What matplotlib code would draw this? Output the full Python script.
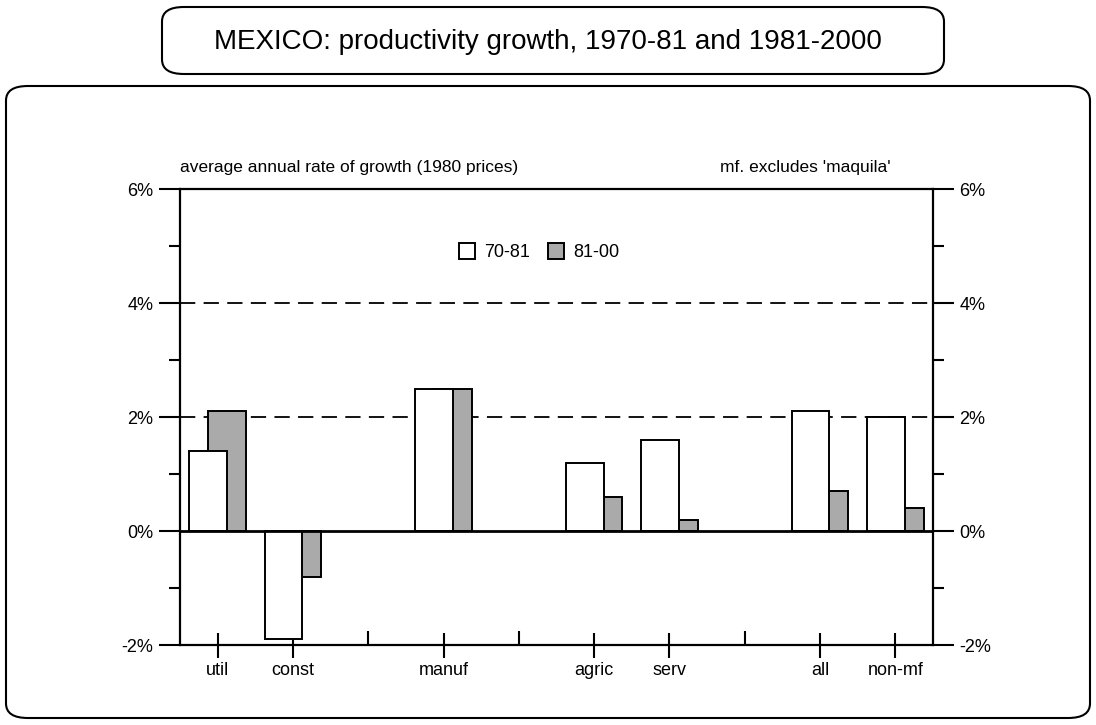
import matplotlib
matplotlib.use("Agg")
import matplotlib.pyplot as plt
from matplotlib.patches import FancyBboxPatch
import numpy as np

plt.rcParams['font.family'] = ['Liberation Sans', 'DejaVu Sans']
plt.rcParams['lines.scale_dashes'] = False

# slots along the x axis ('' = empty gap slot with a small tick)
slots = ['util', 'const', '', 'manuf', '', 'agric', 'serv', '', 'all', 'non-mf']
cats = ['util', 'const', 'manuf', 'agric', 'serv', 'all', 'non-mf']
g7081 = [1.4, -1.9, 2.5, 1.2, 1.6, 2.1, 2.0]
g8100 = [2.1, -0.8, 2.5, 0.6, 0.2, 0.7, 0.4]
yticks = [-2, 0, 2, 4, 6]
yticklabels = ['-2%', '0%', '2%', '4%', '6%']

fig = plt.figure(figsize=(10.96, 7.25), dpi=100)

# rounded frames
fig.patches.append(FancyBboxPatch((6/1096, 7/725), 1084/1096, 632/725,
                                  boxstyle="round,pad=0,rounding_size=0.02",
                                  transform=fig.transFigure, fill=False,
                                  lw=1.5, ec='black'))
fig.patches.append(FancyBboxPatch((162/1096, 651/725), 782/1096, 67/725,
                                  boxstyle="round,pad=0,rounding_size=0.02",
                                  transform=fig.transFigure, fill=False,
                                  lw=1.5, ec='black'))
fig.text(548/1096, 683/725, 'MEXICO: productivity growth, 1970-81 and 1981-2000',
         ha='center', va='center', fontsize=20)

ax = fig.add_axes([180/1096, 80/725, 753/1096, 456/725])

pos = np.array([slots.index(c) for c in cats], dtype=float)
w = 0.5
ax.bar(pos + 0.125, g8100, w, color='#aaaaaa', edgecolor='black', lw=1.4,
       zorder=2, label='81-00')
ax.bar(pos - 0.125, g7081, w, color='white', edgecolor='black', lw=1.4,
       zorder=3, label='70-81')

ax.set_xlim(-0.5, len(slots) - 0.5)
ax.set_ylim(-2, 6)

for y in [2, 4]:
    ax.axhline(y, color='black', lw=1.3, dashes=(11, 6), zorder=1)
ax.axhline(0, color='black', lw=2, zorder=4)

for s in ax.spines.values():
    s.set_linewidth(1.6)

ax.set_xticks(pos)
ax.set_xticklabels(cats, fontsize=13)
blank = [i for i, s in enumerate(slots) if s == '']
ax.set_xticks(blank, minor=True)
ax.tick_params(axis='x', which='major', direction='inout', length=18,
               width=1.5, pad=3)
ax.tick_params(axis='x', which='minor', direction='in', length=10, width=1.5)

ax.set_yticks(yticks)
ax.set_yticklabels(yticklabels, fontsize=13)
ax.set_yticks([-1, 1, 3, 5], minor=True)
ax.tick_params(axis='y', which='major', direction='out', length=15, width=1.5,
               pad=4, left=True, right=True, labelleft=True, labelright=True)
ax.tick_params(axis='y', which='minor', direction='out', length=8, width=1.5,
               left=True, right=True)

ax.text(0.0, 1.03, 'average annual rate of growth (1980 prices)',
        transform=ax.transAxes, ha='left', va='bottom', fontsize=12.5)
ax.text(0.83, 1.03, "mf. excludes 'maquila'",
        transform=ax.transAxes, ha='center', va='bottom', fontsize=12.5)

h, l = ax.get_legend_handles_labels()
ax.legend(h[::-1], l[::-1], loc='center', bbox_to_anchor=(0.477, 0.862),
          ncol=2, frameon=False, fontsize=13, handlelength=0.9,
          handleheight=1.0, handletextpad=0.5, columnspacing=1.0)

fig.savefig('out.png', dpi=100)
